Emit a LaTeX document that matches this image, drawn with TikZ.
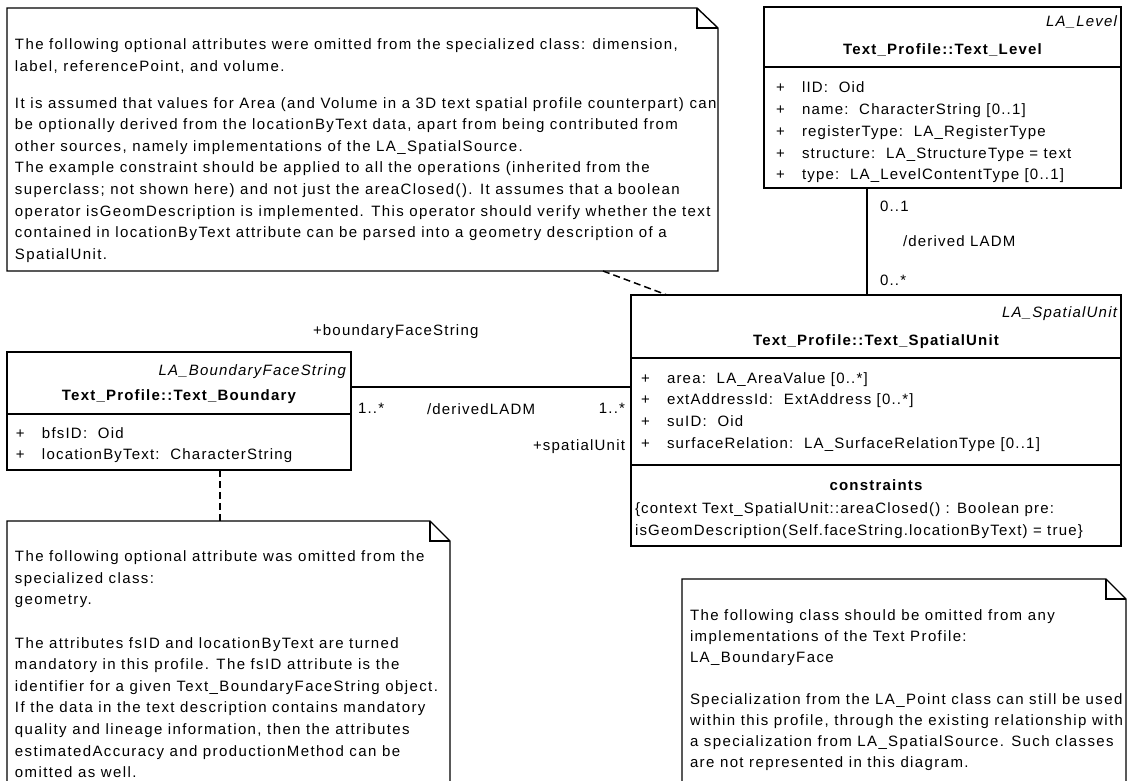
\documentclass[tikz,border=0pt]{standalone}
\usepackage{fontspec}
\setmainfont{Liberation Sans}[LetterSpace=8]
\newfontfamily\notefont{Liberation Sans}[LetterSpace=9.3]
\newcommand\umlattr[1]{\makebox[26pt][l]{+}#1}
\begin{document}
\begin{tikzpicture}[x=1pt,y=-1pt,
  every node/.style={inner sep=0pt, outer sep=0pt},
  classbox/.style={draw, line width=1.6pt, anchor=north west, rectangle},
  sepline/.style={line width=1.6pt},
  notebox/.style={line width=1.4pt, line join=miter},
  notearea/.style={anchor=north west, rectangle},
  body/.style={font=\fontsize{15}{21.6}\selectfont, align=left, anchor=north west},
  notebody/.style={font=\notefont\fontsize{15}{21.6}\selectfont, align=left, anchor=north west},
  lbl/.style={font=\fontsize{15}{17}\selectfont, anchor=base west},
  stereo/.style={font=\fontsize{15}{17}\selectfont\itshape, anchor=base east},
  cname/.style={font=\fontsize{15}{17}\selectfont\bfseries, anchor=base},
  assoc/.style={line width=1.5pt},
  notelink/.style={line width=1.5pt, dash pattern=on 7pt off 4pt},
]
\clip (0,0) rectangle (1128,781);
\fill[white] (0,0) rectangle (1128,781);

% ---------- note 1 ----------
\node[notearea, minimum width=711pt, minimum height=263pt] (n1) at (7,8) {};
\draw[notebox] (n1.south west) -- (n1.north west) -- ([xshift=-21pt]n1.north east)
  -- ([yshift=-20pt]n1.north east) -- (n1.south east) -- cycle;
\draw[notebox] ([xshift=-21pt]n1.north east) -- ([xshift=-21pt,yshift=-20pt]n1.north east)
  -- ([yshift=-20pt]n1.north east);
\node[notebody] (n1text) at (15,34.8) {\strut The following optional attributes were omitted from the specialized class: dimension,\\
label, referencePoint, and volume.\\[15pt]
It is assumed that values for Area (and Volume in a 3D text spatial profile counterpart) can\\
be optionally derived from the locationByText data, apart from being contributed from\\
other sources, namely implementations of the LA\_SpatialSource.\\
The example constraint should be applied to all the operations (inherited from the\\
superclass; not shown here) and not just the areaClosed(). It assumes that a boolean\\
operator isGeomDescription is implemented. This operator should verify whether the text\\
contained in locationByText attribute can be parsed into a geometry description of a\\
SpatialUnit.};

% ---------- class Text_Level ----------
\node[classbox, minimum width=357pt, minimum height=181pt] (lvl) at (764,7) {};
\draw[sepline] (lvl.west |- 0,67) -- (lvl.east |- 0,67);
\node[stereo] (lvlst) at (1117,26.5) {LA\_Level};
\node[cname] (lvlname) at (lvl.north |- 0,55) {Text\_Profile::Text\_Level};
\node[body, font=\fontsize{15}{21.8}\selectfont] (lvlattr) at (776,77.5) {\strut\umlattr{lID:\ \ Oid}\\
\umlattr{name:\ \ CharacterString [0..1]}\\
\umlattr{registerType:\ \ LA\_RegisterType}\\
\umlattr{structure:\ \ LA\_StructureType = text}\\
\umlattr{type:\ \ LA\_LevelContentType [0..1]}};

% ---------- class Text_SpatialUnit ----------
\node[classbox, minimum width=490pt, minimum height=251pt] (su) at (631,295) {};
\draw[sepline] (su.west |- 0,358) -- (su.east |- 0,358);
\draw[sepline] (su.west |- 0,465) -- (su.east |- 0,465);
\node[stereo] (sust) at (1117,317) {LA\_SpatialUnit};
\node[cname] (suname) at (su.north |- 0,345) {Text\_Profile::Text\_SpatialUnit};
\node[body, font=\fontsize{15}{21.9}\selectfont] (suattr) at (641,367.7) {\strut\umlattr{area:\ \ LA\_AreaValue [0..*]}\\
\umlattr{extAddressId:\ \ ExtAddress [0..*]}\\
\umlattr{suID:\ \ Oid}\\
\umlattr{surfaceRelation:\ \ LA\_SurfaceRelationType [0..1]}};
\node[cname] (suconsthead) at (su.north |- 0,490) {constraints};
\node[body] (suconst) at (635,498.8) {\strut\{context Text\_SpatialUnit::areaClosed() : Boolean pre:\\
isGeomDescription(Self.faceString.locationByText) = true\}};

% ---------- class Text_Boundary ----------
\node[classbox, minimum width=344pt, minimum height=118pt] (bnd) at (7,352) {};
\draw[sepline] (bnd.west |- 0,414) -- (bnd.east |- 0,414);
\node[stereo] (bndst) at (346,375) {LA\_BoundaryFaceString};
\node[cname] (bndname) at (bnd.north |- 0,400) {Text\_Profile::Text\_Boundary};
\node[body, font=\fontsize{15}{21.8}\selectfont] (bndattr) at (16,422.8) {\strut\umlattr{bfsID:\ \ Oid}\\
\umlattr{locationByText:\ \ CharacterString}};

% ---------- note 2 ----------
\node[notearea, minimum width=443pt, minimum height=280pt] (n2) at (7,521) {};
\draw[notebox] (n2.south west) -- (n2.north west) -- ([xshift=-20pt]n2.north east)
  -- ([yshift=-20pt]n2.north east) -- (n2.south east);
\draw[notebox] ([xshift=-20pt]n2.north east) -- ([xshift=-20pt,yshift=-20pt]n2.north east)
  -- ([yshift=-20pt]n2.north east);
\node[notebody] (n2text) at (15,546.5) {\strut The following optional attribute was omitted from the\\
specialized class:\\
geometry.\\[21.6pt]
The attributes fsID and locationByText are turned\\
mandatory in this profile. The fsID attribute is the\\
identifier for a given Text\_BoundaryFaceString object.\\
If the data in the text description contains mandatory\\
quality and lineage information, then the attributes\\
estimatedAccuracy and productionMethod can be\\
omitted as well.};

% ---------- note 3 ----------
\node[notearea, minimum width=444pt, minimum height=220pt] (n3) at (682,579) {};
\draw[notebox] (n3.south west) -- (n3.north west) -- ([xshift=-20pt]n3.north east)
  -- ([yshift=-20pt]n3.north east) -- (n3.south east);
\draw[notebox] ([xshift=-20pt]n3.north east) -- ([xshift=-20pt,yshift=-20pt]n3.north east)
  -- ([yshift=-20pt]n3.north east);
\node[notebody, font=\notefont\fontsize{15}{21}\selectfont] (n3text) at (690,606) {\strut The following class should be omitted from any\\
implementations of the Text Profile:\\
LA\_BoundaryFace\\[21pt]
Specialization from the LA\_Point class can still be used\\
within this profile, through the existing relationship with\\
a specialization from LA\_SpatialSource. Such classes\\
are not represented in this diagram.};

% ---------- connectors ----------
\draw[assoc] (lvl.south -| 867,0) -- (su.north -| 867,0);
\node[lbl] (m01) at (880,211.7) {0..1};
\node[lbl] (lvlrole) at (903,247) {/derived LADM};
\node[lbl] (m0s) at (880,285) {0..*};

\draw[assoc] (bnd.east |- 0,387) -- (su.west |- 0,387);
\node[lbl] (bfsrole) at (313,335) {+boundaryFaceString};
\node[lbl] (m1a) at (358,413) {1..*};
\node[lbl] (assocname) at (427,414) {/derivedLADM};
\node[lbl, anchor=base east] (m1b) at (625,413) {1..*};
\node[lbl, anchor=base east] (surole) at (625,450) {+spatialUnit};

\draw[notelink] (n1.south -| 603,0) -- (su.north -| 667,0);
\draw[notelink] (bnd.south -| 220,0) -- (n2.north -| 220,0);
\end{tikzpicture}
\end{document}
